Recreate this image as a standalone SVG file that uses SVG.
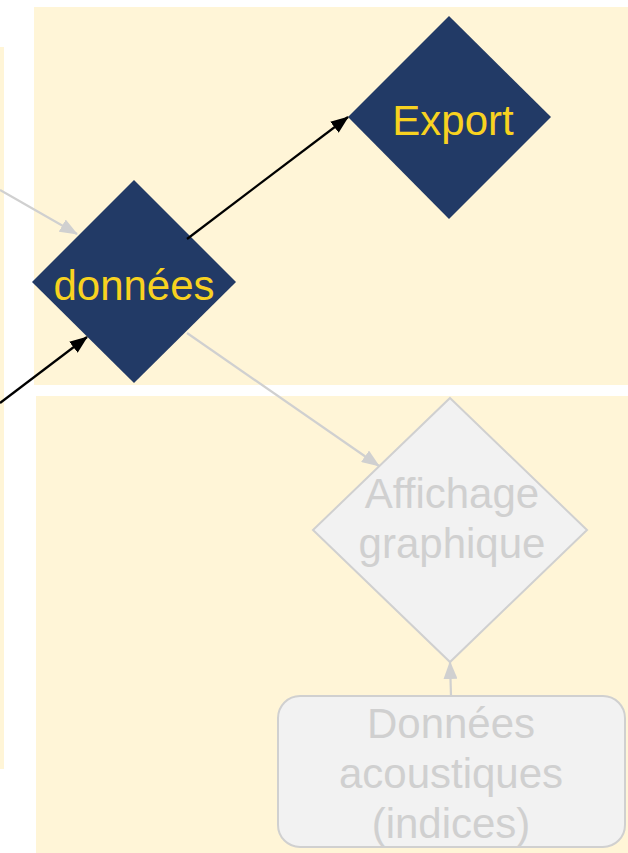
<svg xmlns="http://www.w3.org/2000/svg" width="628" height="853" viewBox="0 0 628 853">
<style>
.panel{fill:#FFF5D7;stroke:none}
.dark{fill:#223A66;stroke:none}
.pale{fill:#F2F2F2;stroke:#D0D0D0;stroke-width:2}
.t{font-family:"Liberation Sans",Arial,sans-serif;font-size:42px;text-anchor:middle}
.ty{fill:#F8D220}
.tg{fill:#D0D0D0}
.cb{stroke:#000;stroke-width:2.2;fill:none}
.cg{stroke:#D0D0D0;stroke-width:2.2;fill:none}
</style>
<defs>
<marker id="ab" markerUnits="userSpaceOnUse" markerWidth="18" markerHeight="14" refX="17" refY="7" orient="auto"><path d="M0,0 L18,7 L0,14 Z" fill="#000"/></marker>
<marker id="ag" markerUnits="userSpaceOnUse" markerWidth="18" markerHeight="14" refX="17" refY="7" orient="auto"><path d="M0,0 L18,7 L0,14 Z" fill="#D0D0D0"/></marker>
</defs>
<g id="panels">
<rect class="panel" x="0" y="47" width="4" height="722"/>
<rect class="panel" x="34" y="7" width="594" height="378"/>
<rect class="panel" x="36" y="396" width="592" height="457"/>
</g>
<g id="node-donnees">
<polygon class="dark" points="134,180 236,282 134,383 32,282"/>
<text class="t ty" x="134" y="300">données</text>
</g>
<g id="node-export">
<polygon class="dark" points="449,16 551,117 449,219 348,117"/>
<text class="t ty" x="453" y="135">Export</text>
</g>
<g id="node-affichage">
<polygon class="pale" points="450,398 587,530 450,662 313,530"/>
<text class="t tg" x="452" y="508">Affichage</text>
<text class="t tg" x="452" y="558">graphique</text>
</g>
<g id="node-acoustiques">
<rect class="pale" x="278" y="696" width="347" height="151" rx="22"/>
<text class="t tg" x="451" y="738">Données</text>
<text class="t tg" x="451" y="788">acoustiques</text>
<text class="t tg" x="451" y="838">(indices)</text>
</g>
<g id="connectors">
<line class="cg" x1="0" y1="190" x2="77" y2="234" marker-end="url(#ag)"/>
<line class="cb" x1="0" y1="403" x2="87" y2="337" marker-end="url(#ab)"/>
<line class="cb" x1="187" y1="239" x2="348" y2="117" marker-end="url(#ab)"/>
<line class="cg" x1="187" y1="333" x2="379" y2="466" marker-end="url(#ag)"/>
<line class="cg" x1="451" y1="696" x2="450" y2="662" marker-end="url(#ag)"/>
</g>
</svg>
